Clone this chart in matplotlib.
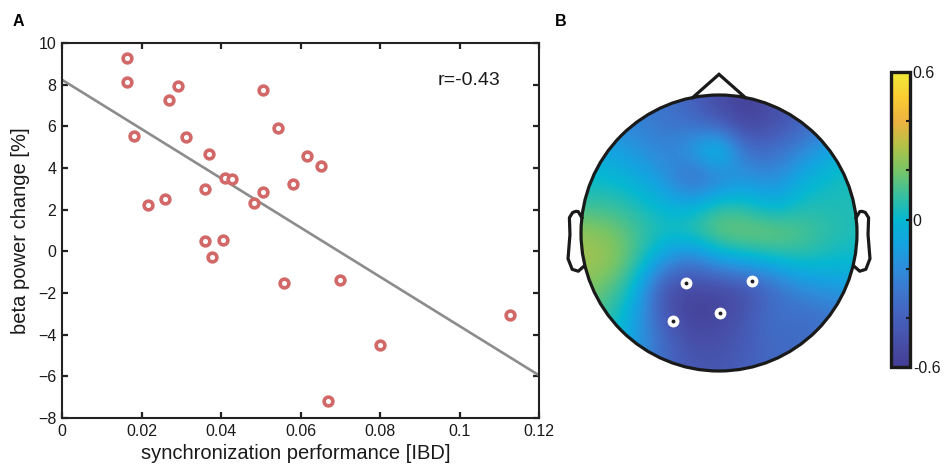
import numpy as np
import matplotlib
matplotlib.use("Agg")
import matplotlib.pyplot as plt
from matplotlib.colors import LinearSegmentedColormap
from matplotlib.patches import Circle

plt.rcParams['font.family'] = ['Liberation Sans', 'DejaVu Sans']

# ---------------- Panel A data ----------------
sync_perf = [0.0164, 0.0164, 0.0181, 0.0216, 0.0259, 0.0269, 0.0292, 0.0312,
             0.0360, 0.0370, 0.0360, 0.0377, 0.0405, 0.0410, 0.0428, 0.0483,
             0.0506, 0.0506, 0.0543, 0.0558, 0.0581, 0.0616, 0.0652, 0.0699,
             0.0669, 0.0800, 0.1127]
beta_change = [9.28, 8.13, 5.54, 2.22, 2.51, 7.26, 7.94, 5.49,
               2.99, 4.67, 0.50, -0.27, 0.54, 3.52, 3.47, 2.32,
               7.74, 2.85, 5.92, -1.52, 3.23, 4.58, 4.10, -1.38,
               -7.19, -4.50, -3.06]
r_text = "r=-0.43"
x_ticks = [0, 0.02, 0.04, 0.06, 0.08, 0.1, 0.12]
x_ticklabels = ["0", "0.02", "0.04", "0.06", "0.08", "0.1", "0.12"]
y_ticks = [-8, -6, -4, -2, 0, 2, 4, 6, 8, 10]

# ---------------- Panel B data ----------------
grid_x = [-1.0, -0.8, -0.6, -0.4, -0.2, 0.0, 0.2, 0.4, 0.6, 0.8, 1.0]
grid_y = [1.0, 0.8, 0.6, 0.4, 0.2, 0.0, -0.2, -0.4, -0.6, -0.8, -1.0]
topo_values = [
    [-0.20, -0.20, -0.25, -0.30, -0.40, -0.52, -0.58, -0.50, -0.40, -0.30, -0.25],
    [-0.15, -0.20, -0.25, -0.30, -0.34, -0.46, -0.58, -0.50, -0.40, -0.30, -0.25],
    [-0.05, -0.10, -0.15, -0.25, -0.12, 0.17, -0.36, -0.33, -0.22, -0.08, 0.00],
    [0.00, 0.00, -0.05, -0.15, -0.40, -0.30, -0.15, -0.22, -0.05, 0.02, 0.05],
    [0.10, 0.10, 0.05, -0.02, -0.05, 0.10, 0.05, -0.05, 0.05, 0.05, 0.05],
    [0.25, 0.22, 0.13, 0.05, 0.10, 0.20, 0.22, 0.22, 0.15, 0.08, 0.05],
    [0.28, 0.26, 0.12, -0.15, -0.30, -0.10, -0.05, 0.00, 0.05, 0.02, 0.00],
    [0.22, 0.16, 0.00, -0.50, -0.55, -0.55, -0.50, -0.35, -0.20, -0.15, -0.10],
    [0.15, 0.10, -0.10, -0.45, -0.58, -0.55, -0.45, -0.30, -0.35, -0.30, -0.30],
    [0.08, 0.00, -0.10, -0.35, -0.50, -0.50, -0.42, -0.35, -0.35, -0.30, -0.30],
    [0.00, -0.10, -0.20, -0.35, -0.45, -0.45, -0.40, -0.35, -0.35, -0.30, -0.30],
]
elec_x = [-0.24, 0.24, -0.33, 0.01]
elec_y = [-0.36, -0.35, -0.64, -0.58]
cbar_ticks = [-0.6, -0.4, -0.2, 0.0, 0.2, 0.4, 0.6]
cbar_labels = ["-0.6", "", "", "0", "", "", "0.6"]

# EEGLAB-style head outline
ear_x = [0.994, 1.02, 1.036, 1.06, 1.084, 1.08, 1.094, 1.064, 1.02, 0.978]
ear_y = [0.111, 0.155, 0.157, 0.149, 0.111, -0.011, -0.186, -0.263, -0.277, -0.24]
nose_x = [-0.19, 0.0, 0.19]
nose_y = [0.982, 1.15, 0.982]

# parula-like colormap anchors (as seen in the reference colorbar)
cmap_anchors = [
    (0.27, 0.24, 0.58), (0.28, 0.31, 0.66), (0.27, 0.38, 0.74), (0.24, 0.46, 0.80),
    (0.18, 0.55, 0.86), (0.08, 0.64, 0.88), (0.02, 0.72, 0.82), (0.22, 0.75, 0.62),
    (0.47, 0.77, 0.40), (0.70, 0.76, 0.28), (0.93, 0.70, 0.25), (0.98, 0.80, 0.20),
    (0.94, 0.92, 0.22)]
parula = LinearSegmentedColormap.from_list("parula_like", cmap_anchors, N=256)

W, H = 949, 470
fig = plt.figure(figsize=(W / 100, H / 100), dpi=100)
txt_color = "#1a1a1a"

# ---------------- Panel A ----------------
axA = fig.add_axes([62 / W, 1 - 418 / H, 477 / W, 375 / H])
xs = np.array(sync_perf)
ys = np.array(beta_change)
slope, intercept = np.polyfit(xs, ys, 1)
xl = np.array([0, 0.12])
axA.plot(xl, intercept + slope * xl, color="#8c8c8c", lw=1.9, zorder=2)
axA.plot(xs, ys, linestyle="none", marker="o", ms=6.3, mew=2.6,
         mec="#d26868", mfc="white", zorder=3)
axA.set_xlim(0, 0.12)
axA.set_ylim(-8, 10)
axA.set_xticks(x_ticks)
axA.set_xticklabels(x_ticklabels)
axA.set_yticks(y_ticks)
for s in axA.spines.values():
    s.set_linewidth(1.5)
    s.set_color("#222222")
axA.tick_params(direction="in", length=4, width=1.6, top=True, right=True,
                labelsize=11.5, colors="#222222", labelcolor=txt_color, pad=4)
axA.set_xlabel("synchronization performance [IBD]", fontsize=14.5, color=txt_color)
axA.set_ylabel("beta power change [%]", fontsize=14.5, color=txt_color)
axA.xaxis.set_label_coords(0.49, -0.07)
axA.yaxis.set_label_coords(-0.068, 0.5)
axA.text(0.1025, 8.2, r_text, fontsize=14, color=txt_color, ha="center", va="center")

fig.text(13 / W, 1 - 26 / H, "A", fontsize=11.5, fontweight="bold", color="black")
fig.text(555 / W, 1 - 26 / H, "B", fontsize=11.5, fontweight="bold", color="black")

# ---------------- Panel B ----------------
cx, cy, R = 719, 233, 138
x0, x1, y0, y1 = 560, 880, 60, 400
axB = fig.add_axes([x0 / W, 1 - y1 / H, (x1 - x0) / W, (y1 - y0) / H])
axB.set_xlim((x0 - cx) / R, (x1 - cx) / R)
axB.set_ylim((cy - y1) / R, (cy - y0) / R)
axB.axis("off")

vals = np.array(topo_values)
dx = (grid_x[1] - grid_x[0]) / 2
im = axB.imshow(vals, cmap=parula, vmin=-0.6, vmax=0.6, interpolation="bicubic",
                extent=[grid_x[0] - dx, grid_x[-1] + dx, grid_y[-1] - dx, grid_y[0] + dx],
                origin="upper", aspect="auto", zorder=1)
clip = Circle((0, 0), 1.0, transform=axB.transData)
im.set_clip_path(clip)

lw_head = 2.3
axB.add_patch(Circle((0, 0), 1.0, fill=False, ec="#1a1a1a", lw=lw_head, zorder=4))
axB.plot(nose_x, nose_y, color="#1a1a1a", lw=lw_head, zorder=4, solid_joinstyle="miter")
axB.plot(ear_x, ear_y, color="#1a1a1a", lw=lw_head, zorder=4)
axB.plot([-v for v in ear_x], ear_y, color="#1a1a1a", lw=lw_head, zorder=4)

axB.plot(elec_x, elec_y, linestyle="none", marker="o", ms=7.5, mfc="white",
         mec="white", zorder=5)
axB.plot(elec_x, elec_y, linestyle="none", marker="o", ms=1.8, mfc="#202020",
         mec="#202020", zorder=6)

# colorbar
cax = fig.add_axes([891 / W, 1 - 367 / H, 19 / W, 295 / H])
cb = fig.colorbar(im, cax=cax, ticks=cbar_ticks)
cb.ax.set_yticklabels(cbar_labels)
cb.outline.set_linewidth(2.4)
cb.outline.set_edgecolor("#1a1a1a")
cax.tick_params(direction="in", length=3, width=1.5, labelsize=11.5,
                colors="#1a1a1a", labelcolor=txt_color, pad=2)

fig.savefig("out.png", dpi=100)
